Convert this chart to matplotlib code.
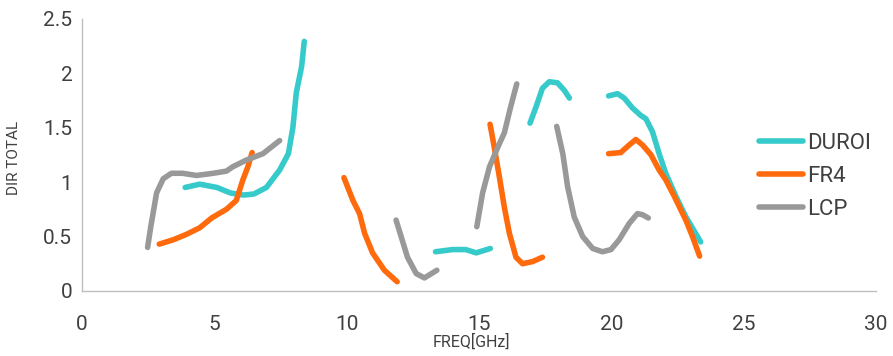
import numpy as np
import matplotlib
matplotlib.use("Agg")
import matplotlib.pyplot as plt

nan = np.nan

# values; nan separates the disconnected pieces
duroi_x = [3.9, 4.45, 5.1, 5.6, 6.1, 6.5, 6.97, 7.47, 7.8, 7.97, 8.1, 8.3, 8.4, nan,
           13.36, 14.0, 14.5, 14.9, 15.43, nan,
           16.93, 17.16, 17.4, 17.66, 17.97, 18.23, 18.42, nan,
           19.9, 20.24, 20.49, 20.8, 21.12, 21.31, 21.56, 21.81, 22.06, 22.44, 22.82, 23.38]
duroi_y = [0.95, 0.98, 0.95, 0.9, 0.88, 0.89, 0.95, 1.11, 1.26, 1.5, 1.82, 2.06, 2.29, nan,
           0.36, 0.38, 0.38, 0.35, 0.39, nan,
           1.54, 1.69, 1.86, 1.92, 1.91, 1.84, 1.77, nan,
           1.79, 1.81, 1.77, 1.68, 1.61, 1.58, 1.46, 1.26, 1.08, 0.87, 0.68, 0.45]

fr4_x = [2.92, 3.45, 3.95, 4.45, 4.9, 5.46, 5.83, 6.08, 6.27, 6.43, nan,
         9.9, 10.24, 10.49, 10.68, 10.98, 11.43, 11.91, nan,
         15.42, 15.58, 15.77, 15.96, 16.15, 16.4, 16.65, 17.03, 17.4, nan,
         19.9, 20.36, 20.68, 20.93, 21.18, 21.5, 21.81, 22.06, 22.38, 22.82, 23.07, 23.34]
fr4_y = [0.43, 0.47, 0.52, 0.58, 0.67, 0.75, 0.83, 1.02, 1.14, 1.27, nan,
         1.04, 0.83, 0.71, 0.53, 0.35, 0.19, 0.085, nan,
         1.53, 1.32, 1.05, 0.77, 0.53, 0.31, 0.25, 0.27, 0.31, nan,
         1.26, 1.27, 1.34, 1.39, 1.34, 1.25, 1.11, 1.02, 0.87, 0.65, 0.5, 0.32]

lcp_x = [2.48, 2.6, 2.82, 3.07, 3.38, 3.8, 4.33, 4.96, 5.46, 5.7, 6.2, 6.84, 7.47, nan,
         11.87, 12.06, 12.3, 12.63, 12.94, 13.41, nan,
         14.92, 15.14, 15.4, 15.77, 15.96, 16.2, 16.43, nan,
         17.94, 18.17, 18.35, 18.6, 18.92, 19.3, 19.67, 19.99, 20.3, 20.68, 20.99, 21.18, 21.4]
lcp_y = [0.4, 0.59, 0.9, 1.03, 1.08, 1.08, 1.06, 1.08, 1.1, 1.14, 1.2, 1.26, 1.38, nan,
         0.65, 0.5, 0.31, 0.16, 0.12, 0.19, nan,
         0.59, 0.9, 1.14, 1.35, 1.45, 1.69, 1.9, nan,
         1.51, 1.26, 0.96, 0.68, 0.5, 0.39, 0.36, 0.38, 0.47, 0.62, 0.71, 0.7, 0.67]

x_ticks = [0, 5, 10, 15, 20, 25, 30]
y_ticks = [0, 0.5, 1, 1.5, 2, 2.5]
y_labels = ["0", "0.5", "1", "1.5", "2", "2.5"]

plt.rcParams['font.family'] = ['Roboto', 'DejaVu Sans']
txt = '#404040'

fig = plt.figure(figsize=(8.93, 3.56), dpi=100)
ax = fig.add_axes([0.0918, 0.1826, 0.889, 0.7654])

lw = 4
ax.plot(duroi_x, duroi_y, color='#36CACA', lw=lw, solid_capstyle='round', solid_joinstyle='round', label='DUROI')
ax.plot(fr4_x, fr4_y, color='#FF6A0D', lw=lw, solid_capstyle='round', solid_joinstyle='round', label='FR4')
ax.plot(lcp_x, lcp_y, color='#999999', lw=lw, solid_capstyle='round', solid_joinstyle='round', label='LCP')

ax.set_xlim(0, 30)
ax.set_ylim(0, 2.5)
ax.set_xticks(x_ticks)
ax.set_yticks(y_ticks)
ax.set_yticklabels(y_labels)
ax.tick_params(length=0, labelsize=15, labelcolor=txt)
ax.tick_params(axis='x', pad=17)
ax.tick_params(axis='y', pad=7)

for s in ['top', 'right']:
    ax.spines[s].set_visible(False)
for s in ['left', 'bottom']:
    ax.spines[s].set_color('#BFBFBF')
    ax.spines[s].set_linewidth(1)

ax.set_ylabel('DIR TOTAL', fontsize=11, color=txt)
ax.yaxis.set_label_coords(-0.077, 0.49)
ax.set_xlabel('FREQ[GHz]', fontsize=11.5, color=txt, va='center')
ax.xaxis.set_label_coords(0.4906, -0.185)

leg = ax.legend(loc='center left', bbox_to_anchor=(0.827, 0.42), frameon=False,
                fontsize=16, handlelength=2.0, handletextpad=0.2, labelspacing=0.55,
                labelcolor=txt)

fig.savefig('out.png', dpi=100)
